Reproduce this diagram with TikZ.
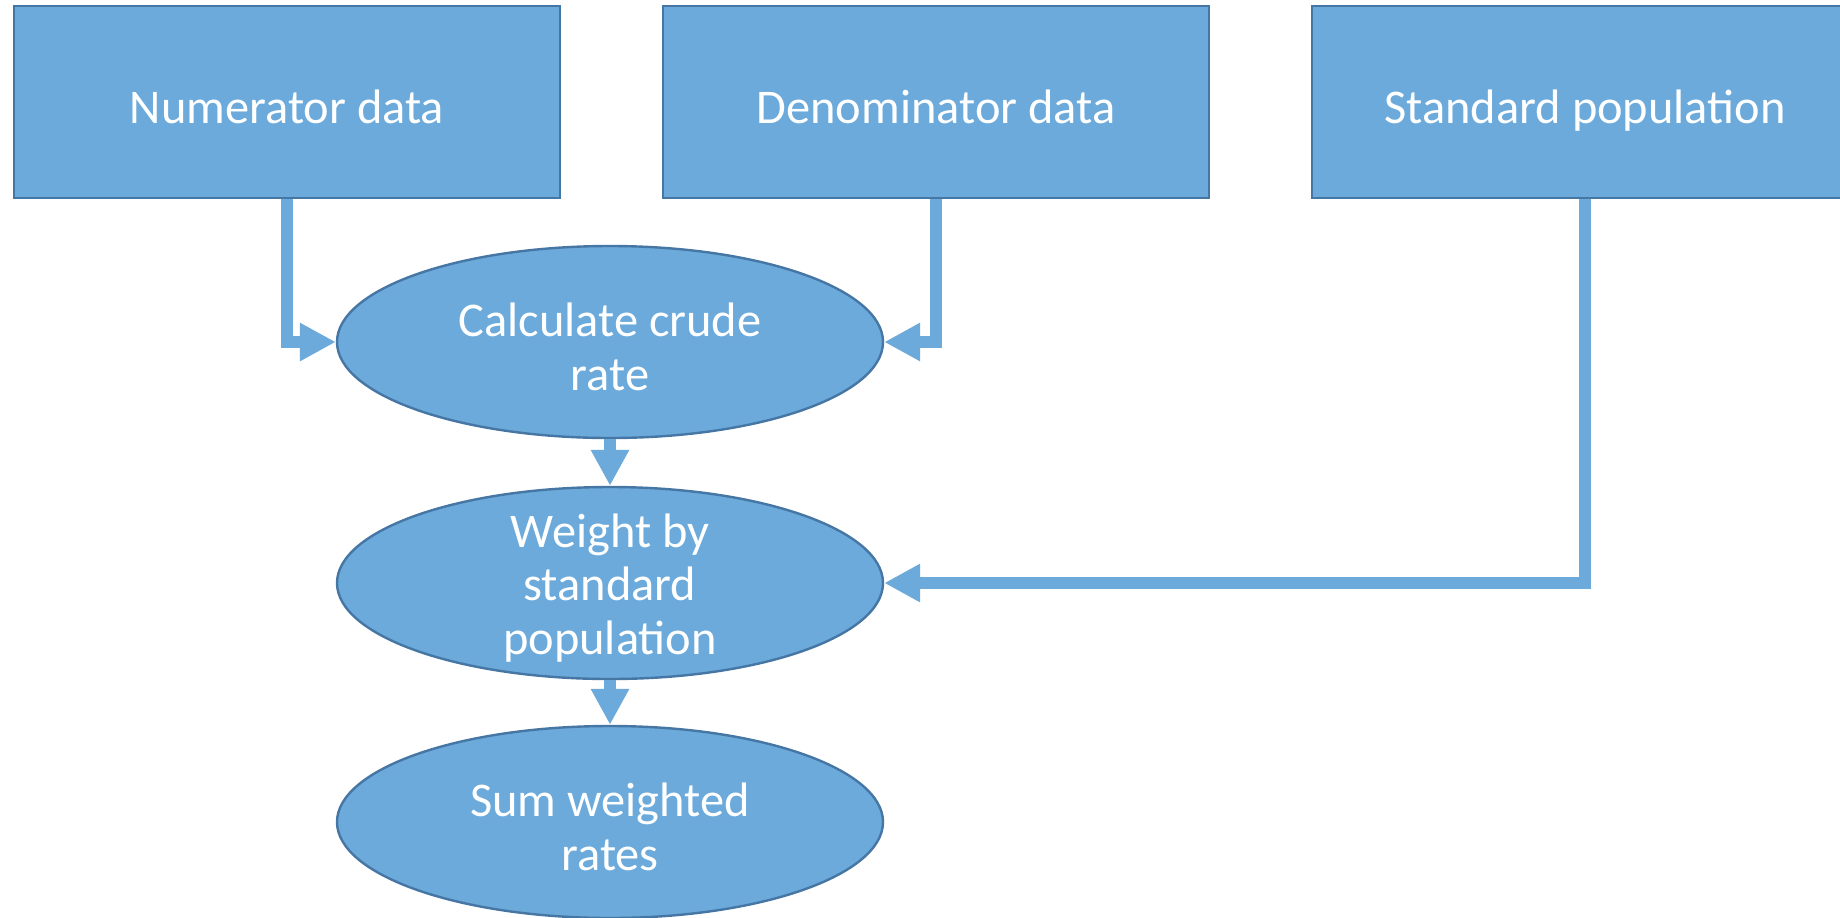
\documentclass[tikz,border=0pt]{standalone}
\usepackage{fontspec}
\setmainfont{Carlito}
\usetikzlibrary{shapes.geometric,arrows.meta}
\definecolor{fillblue}{RGB}{107,170,219}
\definecolor{edgeblue}{RGB}{70,118,163}
\definecolor{linkblue}{RGB}{107,170,219}
\begin{document}
\begin{tikzpicture}[x=0.5pt,y=-0.5pt,
  boxtxt/.style={text=white, font=\fontsize{24.2}{26.7}\selectfont,
    text height=16pt, text depth=5pt, inner sep=0pt, yshift=-5pt},
  elltxt/.style={text=white, align=center, font=\fontsize{24.2}{26.7}\selectfont,
    inner sep=0pt, yshift=-2.5pt},
  databox/.style={rectangle, draw=edgeblue, fill=fillblue, line width=1.2pt,
    minimum width=273pt, minimum height=96pt, inner sep=0pt},
  stepell/.style={ellipse, draw=edgeblue, fill=fillblue, line width=1.2pt,
    minimum width=273pt, minimum height=96pt, inner sep=0pt},
  link/.style={draw=linkblue, line width=6pt, -{Triangle[length=18pt,width=18pt]}}]
\clip (0,0) rectangle (1840,917);
\node[databox, label={[boxtxt]center:Numerator data}] (num) at (287,102) {};
\node[databox, label={[boxtxt]center:Denominator data}] (den) at (936,102) {};
\node[databox, label={[boxtxt]center:Standard population}] (std) at (1585,102) {};
\node[stepell, label={[elltxt]center:Calculate crude\\rate}] (crude) at (610,342) {};
\node[stepell, label={[elltxt]center:Weight by\\standard\\population}] (weight) at (610,583) {};
\node[stepell, label={[elltxt]center:Sum weighted\\rates}] (sum) at (610,822) {};
\draw[link] (num.south) |- (crude.west);
\draw[link] (den.south) |- (crude.east);
\draw[link] (std.south) |- (weight.east);
\draw[link] (crude.south) -- (weight.north);
\draw[link] (weight.south) -- (sum.north);
\end{tikzpicture}
\end{document}
